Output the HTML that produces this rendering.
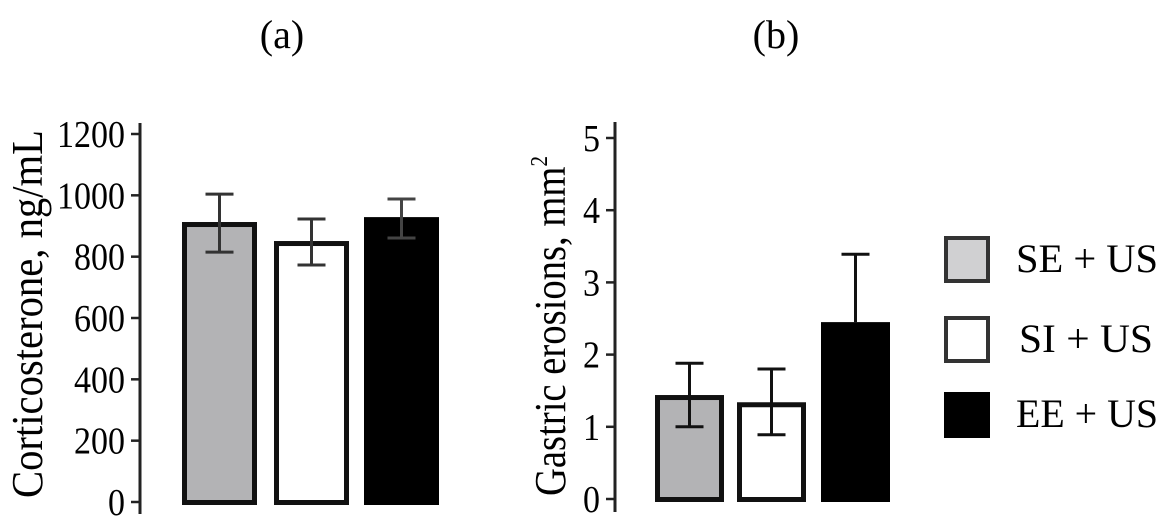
<!DOCTYPE html>
<html><head><meta charset="utf-8"><style>
html,body{margin:0;padding:0;background:#fff;}
svg{display:block;font-family:"Liberation Serif",serif;}
</style></head><body>
<svg id="chart" width="1168" height="520" viewBox="0 0 1168 520">
<text x="282" y="48" font-size="40" text-anchor="middle">(a)</text>
<text x="776" y="48" font-size="40" text-anchor="middle">(b)</text>
<text transform="translate(42,314) rotate(-90)" font-size="44" text-anchor="middle" textLength="368" lengthAdjust="spacingAndGlyphs">Corticosterone, ng/mL</text>
<text transform="translate(565,326) rotate(-90)" font-size="44" text-anchor="middle" textLength="340" lengthAdjust="spacingAndGlyphs">Gastric erosions, mm<tspan font-size="24" dy="-18">2</tspan></text>
<g id="legend">
 <g><rect x="946" y="238" width="42" height="43" fill="#d0d0d2" stroke="#333" stroke-width="4"/><text x="1016" y="272" font-size="40" textLength="142" lengthAdjust="spacingAndGlyphs">SE + US</text></g>
 <g><rect x="946" y="318" width="42" height="43" fill="#fff" stroke="#333" stroke-width="4"/><text x="1019" y="352" font-size="40" textLength="134" lengthAdjust="spacingAndGlyphs">SI + US</text></g>
 <g><rect x="944" y="392" width="46" height="46" fill="#000"/><text x="1016" y="427" font-size="40" textLength="142" lengthAdjust="spacingAndGlyphs">EE + US</text></g>
</g>
</svg>
<script>
const groups = ["SE + US", "SI + US", "EE + US"];
const corticoMeans = [913, 851, 929];
const corticoHigh = [1004, 923, 988];
const corticoLow = [815, 773, 861];
const corticoTicks = [0, 200, 400, 600, 800, 1000, 1200];
const erosionMeans = [1.44, 1.34, 2.45];
const erosionHigh = [1.88, 1.8, 3.39];
const erosionLow = [1.0, 0.89, null];
const erosionTicks = [0, 1, 2, 3, 4, 5];

const NS = "http://www.w3.org/2000/svg";
const svg = document.getElementById("chart");
const fills = ["#b3b3b5", "#fff", "#000"];
function mk(tag, attrs, parent) {
  const e = document.createElementNS(NS, tag);
  for (const k in attrs) e.setAttribute(k, attrs[k]);
  (parent || svg).appendChild(e);
  return e;
}
function panel(cfg) {
  const y = v => cfg.y0 - (v - cfg.vmin) / (cfg.vmax - cfg.vmin) * (cfg.y0 - cfg.y1);
  const g = mk("g", {});
  
  
  const ax = mk("line", {x1: cfg.ax, x2: cfg.ax, y1: cfg.axTop, y2: cfg.axBot, stroke: "#222", "stroke-width": 3}, g);
  
  
  cfg.ticks.forEach(t => {
    const tk = mk("line", {x1: cfg.ax - 9, x2: cfg.ax, y1: y(t), y2: y(t), stroke: "#222", "stroke-width": 2.5}, g);
    
    
    const s = String(t);
    const lb = mk("text", {x: cfg.ax - 15, y: y(t) + 13, "font-size": 38, "text-anchor": "end",
      textLength: s.length * 17, lengthAdjust: "spacingAndGlyphs"}, g);
    lb.textContent = s;
    
    
  });
  cfg.means.forEach((m, i) => {
    const x0 = cfg.bx[i], w = cfg.bw;
    const r = i === 2
      ? mk("rect", {x: x0, y: y(m), width: w, height: cfg.y0 + 3 - y(m), fill: "#000"}, g)
      : mk("rect", {x: x0 + 2.5, y: y(m) + 2.5, width: w - 5, height: cfg.y0 + 3 - y(m) - 5, fill: fills[i], stroke: "#111", "stroke-width": 5}, g);
    
    
    const cx = x0 + w / 2;
    const lo = cfg.low[i] == null ? m : cfg.low[i];
    const col = cfg.errCol(i);
    const e = mk("g", {stroke: col, "stroke-width": 3}, g);
    
    
    mk("line", {x1: cx, x2: cx, y1: y(cfg.high[i]), y2: y(lo)}, e);
    mk("line", {x1: cx - 14, x2: cx + 14, y1: y(cfg.high[i]), y2: y(cfg.high[i])}, e);
    if (cfg.low[i] != null) mk("line", {x1: cx - 14, x2: cx + 14, y1: y(lo), y2: y(lo)}, e);
  });
}
panel({name: "panel-a-corticosterone", vmin: 0, vmax: 1200, y0: 502, y1: 134, ax: 140, axTop: 123, axBot: 514,
  ticks: corticoTicks, means: corticoMeans, high: corticoHigh, low: corticoLow,
  bx: [182, 274, 364], bw: 75, errCol: i => i === 2 ? "#444" : "#333"});
panel({name: "panel-b-gastric-erosions", vmin: 0, vmax: 5, y0: 499, y1: 138, ax: 615, axTop: 122, axBot: 512,
  ticks: erosionTicks, means: erosionMeans, high: erosionHigh, low: erosionLow,
  bx: [655, 737, 821], bw: 69, errCol: i => "#111"});
</script>
</body></html>
